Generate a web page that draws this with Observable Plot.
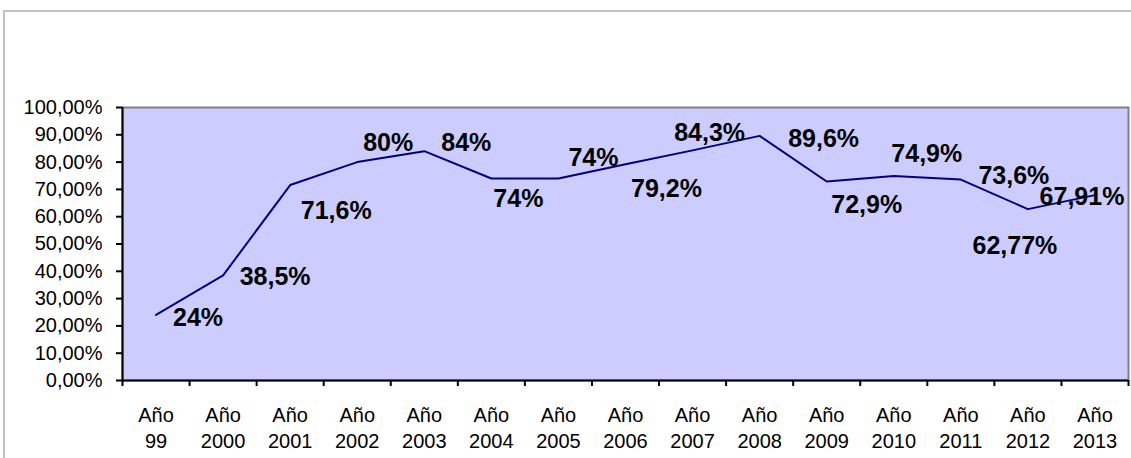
<!DOCTYPE html>
<html>
<head>
<meta charset="utf-8">
<script src="https://cdn.jsdelivr.net/npm/d3@7"></script>
<script src="https://cdn.jsdelivr.net/npm/@observablehq/plot@0.6"></script>
<style>
  html, body { margin: 0; padding: 0; background: #fff; }
  #wrap { position: relative; width: 1131px; height: 458px; overflow: hidden; }
  #border { position: absolute; left: 3px; top: 10px; width: 1200px; height: 600px;
            border: 2px solid #c0c0c0; box-sizing: border-box; }
  #chart { position: absolute; left: 0; top: 0; }
</style>
</head>
<body>
<div id="wrap"><div id="border"></div><div id="chart"></div></div>
<script>
const categories = ["Año 99","Año 2000","Año 2001","Año 2002","Año 2003","Año 2004","Año 2005","Año 2006","Año 2007","Año 2008","Año 2009","Año 2010","Año 2011","Año 2012","Año 2013"];
const values = [0.24,0.385,0.716,0.80,0.84,0.74,0.74,0.792,0.843,0.896,0.729,0.749,0.736,0.6277,0.6791];
const valueLabels = ["24%","38,5%","71,6%","80%","84%","74%","74%","79,2%","84,3%","89,6%","72,9%","74,9%","73,6%","62,77%","67,91%"];
const yTicks = [0,0.1,0.2,0.3,0.4,0.5,0.6,0.7,0.8,0.9,1.0];
// label placement offsets (dx, dy in px) as in the original chart
const labelOffsets = [[42,3],[52,2],[46,26],[31,-19],[42,-8],[27,21],[35,-20],[41,25],[17,-17],[64,3],[40,24],[33,-22],[53,-4],[-13,37],[-13,2]];

const data = categories.map((c, i) => ({i, cat: c, v: values[i], label: valueLabels[i]}));
const idx = categories.map((_, i) => i);
const bounds = d3.range(-0.5, categories.length, 1);

const labelMarks = data.map((d, k) => Plot.text([d], {
  x: "i", y: "v", text: "label",
  dx: labelOffsets[k][0], dy: labelOffsets[k][1],
  fontSize: 25, fontWeight: "bold", fill: "#000", textAnchor: "middle"
}));

const chart = Plot.plot({
  width: 1131,
  height: 458,
  marginLeft: 122,
  marginRight: 3,
  marginTop: 107,
  marginBottom: 78,
  style: {fontFamily: "'Liberation Sans', Arial, sans-serif", background: "transparent", color: "#000", overflow: "visible"},
  x: {type: "linear", domain: [-0.5, categories.length - 0.5]},
  y: {domain: [0, 1]},
  marks: [
    Plot.frame({fill: "#CCCCFF", stroke: "#808080", strokeWidth: 2}),
    Plot.axisY({ticks: yTicks, tickSize: 6, tickPadding: 14, fontSize: 20, stroke: "#000", strokeWidth: 2,
      tickFormat: d => (d * 100).toFixed(2).replace(".", ",") + "%", label: null}),
    Plot.axisX({ticks: bounds, tickSize: 6, tickFormat: () => "", stroke: "#000", strokeWidth: 2, label: null}),
    Plot.axisX({ticks: idx, tickSize: 0, tickPadding: 23, fontSize: 20, lineHeight: 1.3, lineAnchor: "top",
      tickFormat: i => categories[i].replace(" ", "\n"), label: null}),
    Plot.ruleX([-0.5], {stroke: "#000", strokeWidth: 2}),
    Plot.ruleY([0], {stroke: "#000", strokeWidth: 2}),
    Plot.line(data, {x: "i", y: "v", stroke: "#000080", strokeWidth: 2}),
    ...labelMarks
  ]
});
document.getElementById("chart").appendChild(chart);
</script>
</body>
</html>
